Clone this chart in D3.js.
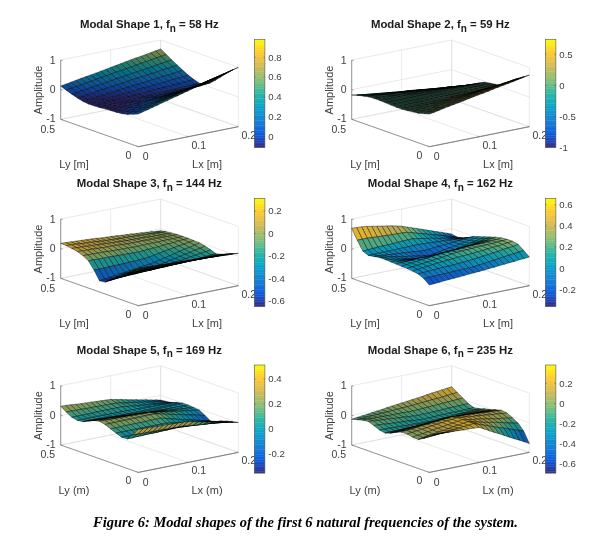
<!DOCTYPE html>
<html>
<head>
<meta charset="utf-8">
<style>html,body{margin:0;padding:0;background:#fff}svg{display:block}</style>
<script src="https://cdn.jsdelivr.net/npm/d3@7"></script>
</head>
<body>
<svg id="chart" width="609" height="545"></svg>
<script>
const titles = ["Modal Shape 1","Modal Shape 2","Modal Shape 3","Modal Shape 4","Modal Shape 5","Modal Shape 6"];
const freqs = [58,59,144,162,169,235];
const lyLabels = ["Ly [m]","Ly [m]","Ly [m]","Ly [m]","Ly (m)","Ly (m)"];
const lxLabels = ["Lx [m]","Lx [m]","Lx [m]","Lx [m]","Lx (m)","Lx (m)"];
const caption = "Figure 6: Modal shapes of the first 6 natural frequencies of the system.";
const colorRanges = [[-0.107,0.98],[-1,0.74],[-0.65,0.314],[-0.36,0.66],[-0.353,0.513],[-0.69,0.383]];
const colorTicks = [[0,0.2,0.4,0.6,0.8],[-1,-0.5,0,0.5],[-0.6,-0.4,-0.2,0,0.2],[-0.2,0,0.2,0.4,0.6],[-0.2,0,0.2,0.4],[-0.6,-0.4,-0.2,0,0.2]];
const lxTicks = [0,0.1,0.2];
const lyTicks = [0,0.5];
const ampTicks = [-1,0,1];
const parulaStops = ["#352a87","#0f5cdd","#1481d6","#06a4ca","#2eb7a4","#87bf77","#d1bb59","#fec832","#f9fb0e"];
const meshShade = [0.32,0.68,0.2,0.1,0.2,0.2];

// amplitude x 100, rows from Ly=0.5 down to Ly=0, columns from Lx=0 to Lx=0.2
const shape1 = [
[12,15,18,21,24,27,29,32,35,38,41,44,47,50,53,56,58,61,64,67,70],
[5,8,10,13,16,18,21,24,26,29,32,34,37,39,42,45,47,50,53,55,58],
[-2,0,3,5,8,10,12,15,17,20,22,24,27,29,32,34,36,39,41,44,46],
[-8,-6,-4,-2,1,3,5,7,9,11,14,16,18,20,22,24,26,29,31,33,35],
[-13,-11,-9,-7,-6,-4,-2,0,2,4,6,7,9,11,13,15,17,18,20,22,24],
[-15,-14,-12,-11,-9,-8,-6,-5,-3,-2,0,1,2,4,5,7,8,10,11,13,14],
[-15,-14,-13,-12,-11,-10,-9,-8,-7,-6,-5,-3,-2,-1,0,1,2,3,4,5,6],
[-14,-13,-13,-12,-11,-11,-10,-9,-8,-8,-7,-6,-6,-5,-4,-4,-3,-2,-1,-1,0],
[-12,-11,-10,-9,-9,-8,-7,-6,-5,-4,-4,-3,-2,-1,0,1,2,2,3,4,5],
[-11,-10,-8,-7,-6,-5,-3,-2,-1,1,2,3,5,6,7,9,10,11,12,14,15],
[-10,-8,-6,-4,-2,0,3,5,7,9,11,13,15,17,19,22,24,26,28,30,32],
[-8,-5,-2,1,4,6,9,12,15,18,21,24,27,30,33,35,38,41,44,47,50],
[-4,0,3,7,10,14,18,21,25,28,32,36,39,43,46,50,54,57,61,64,68],
[3,7,11,15,19,24,28,32,36,40,44,48,52,56,60,65,69,73,77,81,85],
[10,15,19,24,28,33,37,42,46,51,55,60,64,69,73,78,82,87,91,96,100]];
const shape2 = [
[-18,-21,-24,-27,-30,-33,-35,-37,-39,-41,-43,-45,-47,-49,-51,-53,-54,-56,-57,-59,-60],
[-12,-14,-16,-18,-20,-22,-24,-26,-28,-30,-31,-33,-35,-37,-39,-41,-43,-45,-46,-48,-50],
[-8,-10,-11,-13,-15,-16,-18,-20,-21,-23,-24,-26,-28,-30,-31,-33,-35,-36,-38,-39,-41],
[-4,-5,-7,-8,-10,-11,-12,-14,-15,-17,-18,-19,-21,-22,-24,-25,-26,-28,-29,-31,-32],
[-3,-4,-5,-6,-7,-8,-9,-10,-11,-12,-13,-14,-15,-16,-17,-18,-19,-20,-21,-22,-23],
[-3,-3,-4,-4,-5,-5,-6,-6,-7,-7,-8,-8,-8,-9,-9,-10,-10,-11,-11,-12,-12],
[-4,-4,-4,-4,-4,-4,-4,-4,-4,-4,-4,-4,-4,-3,-3,-3,-3,-3,-3,-3,-3],
[-5,-5,-5,-4,-4,-4,-4,-4,-3,-3,-3,-3,-2,-2,-2,-1,-1,-1,-1,0,0],
[-6,-6,-5,-5,-4,-4,-3,-3,-2,-2,-2,-1,-1,0,0,1,1,2,2,3,3],
[-6,-5,-5,-4,-3,-3,-2,-1,-1,0,1,2,2,3,4,4,5,6,6,7,8],
[-4,-3,-2,-1,1,2,3,4,5,7,8,9,10,11,13,14,15,16,17,19,20],
[-2,0,2,4,5,7,9,11,13,15,16,18,20,22,24,26,27,29,31,33,35],
[0,3,5,8,10,13,15,18,20,23,25,28,30,33,35,38,40,43,45,48,50],
[5,8,11,14,16,19,22,25,28,31,34,36,39,42,45,48,51,54,56,59,62],
[10,13,16,20,23,26,29,32,36,39,42,45,48,52,55,58,61,64,68,71,74]];
const shape3 = [
[18,17,16,15,14,13,12,11,9,8,7,6,4,3,2,0,-1,-3,-4,-6,-7],
[17,16,15,13,12,11,10,8,7,6,5,4,4,3,2,1,0,-1,-2,-3,-4],
[14,13,12,11,10,9,8,7,6,5,4,3,3,2,2,1,0,0,-1,-1,-2],
[10,9,8,8,7,6,5,5,4,3,2,2,2,2,1,1,1,1,0,0,0],
[3,2,2,1,1,0,-1,-1,-2,-2,-3,-3,-2,-2,-2,-2,-1,-1,-1,0,0],
[-8,-8,-9,-9,-9,-10,-10,-11,-11,-12,-12,-11,-10,-9,-8,-6,-5,-4,-2,-1,0],
[-32,-33,-33,-32,-32,-31,-31,-30,-30,-29,-28,-26,-23,-20,-17,-14,-11,-8,-6,-3,-1],
[-62,-60,-58,-56,-53,-51,-49,-47,-44,-42,-40,-37,-33,-29,-25,-21,-17,-13,-10,-6,-2],
[-60,-58,-56,-54,-53,-51,-49,-47,-46,-44,-42,-38,-35,-31,-28,-24,-20,-17,-13,-10,-6],
[-45,-44,-44,-43,-42,-42,-41,-40,-40,-39,-38,-35,-33,-30,-28,-25,-22,-20,-17,-15,-12],
[-30,-30,-30,-29,-29,-29,-29,-29,-28,-28,-28,-27,-26,-25,-24,-24,-23,-22,-21,-20,-19],
[-15,-15,-15,-15,-15,-15,-16,-16,-16,-16,-16,-16,-16,-15,-15,-15,-15,-15,-14,-14,-14],
[-2,-2,-3,-3,-3,-3,-4,-4,-4,-5,-5,-5,-5,-5,-5,-5,-5,-6,-6,-6,-6],
[12,12,11,11,10,10,10,9,9,8,8,7,7,6,5,5,4,4,3,3,2],
[26,25,24,24,23,22,21,21,20,19,18,17,16,16,15,14,13,12,11,10,9]];
const shape4 = [
[69,68,67,65,62,59,56,53,50,46,42,36,30,24,18,12,6,0,-6,-12,-18],
[35,35,35,34,33,32,31,30,30,29,28,23,18,13,8,3,-2,-7,-12,-17,-22],
[5,6,7,8,9,9,10,11,12,12,13,10,7,4,1,-3,-6,-9,-12,-15,-18],
[-3,-3,-2,-2,-2,-2,-1,-1,-1,0,0,-1,-2,-3,-4,-5,-6,-7,-8,-9,-10],
[0,-1,-3,-4,-6,-7,-8,-10,-11,-13,-14,-13,-11,-10,-8,-7,-6,-4,-3,-1,0],
[3,0,-2,-5,-8,-11,-13,-16,-19,-21,-24,-21,-18,-15,-12,-9,-6,-3,0,3,6],
[3,0,-3,-6,-9,-12,-14,-17,-20,-23,-26,-22,-18,-15,-11,-7,-3,1,4,8,12],
[2,0,-2,-3,-5,-7,-9,-11,-12,-14,-16,-13,-9,-6,-2,1,4,8,11,15,18],
[1,2,2,3,4,5,5,6,6,7,8,9,10,11,13,14,15,17,19,22,24],
[0,2,4,6,8,10,12,14,15,17,18,19,20,21,22,23,23,24,25,26,28],
[-1,1,3,5,7,9,11,13,15,18,20,21,22,23,24,24,25,26,27,28,30],
[-3,-1,1,3,5,7,8,10,11,13,14,15,16,18,19,21,23,24,26,28,30],
[-6,-5,-4,-3,-2,-1,0,1,2,3,4,6,8,10,12,14,16,19,21,23,26],
[-15,-14,-14,-13,-13,-12,-11,-11,-10,-10,-9,-7,-5,-3,-1,2,4,6,8,10,12],
[-30,-29,-28,-26,-25,-24,-23,-22,-20,-19,-18,-17,-15,-14,-12,-11,-9,-8,-6,-5,-3]];
const shape5 = [
[31,30,29,27,26,25,24,23,22,21,20,16,13,9,5,2,-2,-5,-9,-12,-16],
[18,18,17,17,16,16,16,15,15,14,14,11,8,6,3,0,-3,-6,-8,-11,-14],
[7,7,7,7,7,8,8,8,8,8,8,6,4,2,0,-2,-3,-5,-7,-9,-11],
[3,3,3,3,3,3,2,2,2,2,2,1,1,0,0,-1,-1,-2,-3,-3,-4],
[5,5,4,4,3,3,2,2,1,1,0,0,0,0,0,0,0,0,0,0,0],
[14,13,12,11,10,9,8,7,6,5,4,4,3,3,3,2,2,1,1,0,0],
[22,21,20,20,19,18,17,16,16,15,14,12,11,9,8,6,4,3,1,0,-2],
[26,26,25,25,24,24,24,23,23,22,22,19,17,14,11,9,6,4,1,-1,-4],
[22,22,22,23,23,23,23,23,24,24,24,20,16,12,8,5,1,-3,-7,-11,-15],
[14,14,14,15,15,15,15,15,16,16,16,12,7,3,-2,-6,-10,-14,-19,-23,-27],
[6,6,6,6,6,6,6,6,6,6,6,3,0,-2,-5,-8,-11,-14,-16,-19,-22],
[-1,-1,-1,-1,-1,-1,-1,0,0,0,0,-1,-3,-4,-6,-7,-8,-10,-11,-13,-14],
[0,0,1,1,2,2,2,3,3,4,4,3,2,1,0,-2,-3,-4,-5,-7,-8],
[20,20,19,19,18,18,18,17,17,16,16,14,12,10,8,7,5,3,1,-1,-3],
[45,44,44,43,42,42,41,40,40,39,38,34,30,26,23,19,15,12,8,4,1]];
const shape6 = [
[-13,-11,-9,-7,-5,-3,-1,2,4,6,8,10,12,14,16,19,21,23,25,27,29],
[-8,-7,-6,-5,-4,-3,-2,-1,0,1,2,3,5,6,7,9,10,11,13,15,16],
[-3,-3,-4,-4,-4,-5,-5,-5,-5,-6,-6,-5,-4,-3,-2,-1,0,1,2,3,4],
[-1,-2,-4,-5,-6,-8,-9,-10,-12,-13,-14,-13,-13,-12,-12,-11,-10,-10,-9,-9,-8],
[-8,-9,-10,-12,-13,-14,-15,-16,-18,-19,-20,-19,-19,-18,-18,-17,-17,-17,-16,-16,-15],
[-16,-17,-17,-18,-18,-19,-20,-20,-21,-21,-22,-21,-20,-19,-18,-17,-16,-15,-14,-13,-12],
[-20,-20,-19,-19,-18,-18,-18,-17,-17,-16,-16,-15,-14,-13,-12,-11,-10,-9,-8,-7,-6],
[-14,-13,-12,-11,-10,-9,-8,-7,-6,-5,-4,-4,-4,-3,-3,-3,-3,-3,-2,-2,-2],
[-4,-3,-1,0,2,3,4,6,7,9,10,9,9,8,7,7,6,6,5,5,4],
[3,5,6,8,10,12,13,15,17,18,20,19,18,17,16,15,13,12,11,10,9],
[3,5,7,9,11,14,16,18,20,22,24,22,20,18,17,15,13,11,10,8,6],
[-1,2,4,7,9,12,14,17,19,22,24,21,18,16,13,10,7,4,2,-1,-4],
[-2,1,4,6,9,11,14,17,19,22,24,20,16,12,8,5,1,-3,-7,-11,-15],
[8,10,11,13,14,16,18,19,21,22,24,18,12,6,0,-6,-11,-17,-23,-29,-35],
[25,24,24,23,22,22,21,20,20,19,18,9,0,-9,-17,-26,-35,-44,-52,-61,-70]];
const shapes = [shape1,shape2,shape3,shape4,shape5,shape6];

const offsetX = [0,291,0,291,0,291];
const offsetY = [0,0,159,159,325.7,325.7];

const svg = d3.select("#chart");
svg.append("rect").attr("width",609).attr("height",545).attr("fill","#fff");
const defs = svg.append("defs");
defs.append("filter").attr("id","soft").attr("x","-5%").attr("y","-5%").attr("width","110%").attr("height","110%")
  .append("feGaussianBlur").attr("stdDeviation",0.35);

const parula = d3.scaleLinear()
  .domain(parulaStops.map((_,i)=>i/(parulaStops.length-1)))
  .range(parulaStops).interpolate(d3.interpolateRgb).clamp(true);

// oblique 3-D projection built from three linear scales
const xScale = d3.scaleLinear().domain([0,0.2]).range([0,1]);
const yScale = d3.scaleLinear().domain([0,0.5]).range([0,1]);
const zScale = d3.scaleLinear().domain([-1,1]).range([0,-59.3]);
const project = (x,y,z) => {
  const u = xScale(x), v = yScale(y);
  return [138.3 + 100*u - 77.6*v, 146.7 - 20*u - 27.4*v + zScale(z)];
};
const lineGen = d3.line();
// the finer the cell on screen, the more its mesh lines darken it
const areaShade = d3.scaleLinear().domain([2,13]).range([0.95,0]).clamp(true);

shapes.forEach((grid,k)=>{
  const g = svg.append("g").attr("transform",`translate(${offsetX[k]},${offsetY[k]})`).attr("filter","url(#soft)");
  const seg = (a,b,color,w) => g.append("path").attr("d",lineGen([a,b])).attr("fill","none").attr("stroke",color).attr("stroke-width",w);
  const light = "#dcdcdc", dark = "#707070";
  // walls
  lxTicks.forEach(t=>{
    seg(project(t,0.5,-1),project(t,0.5,1),light,0.6);
    seg(project(t,0,-1),project(t,0.5,-1),light,0.6);
  });
  lyTicks.forEach(t=>{
    seg(project(0,t,-1),project(0.2,t,-1),t?light:dark,0.6);
    seg(project(0.2,t,-1),project(0.2,t,1),light,0.6);
  });
  ampTicks.forEach(t=>{
    seg(project(0,0.5,t),project(0.2,0.5,t),light,0.6);
    seg(project(0.2,0.5,t),project(0.2,0,t),light,0.6);
  });
  // visible axes
  seg(project(0,0.5,-1),project(0,0,-1),dark,0.7);
  seg(project(0,0,-1),project(0.2,0,-1),dark,0.7);
  seg(project(0,0.5,-1),project(0,0.5,1),dark,0.7);
  ampTicks.forEach(t=>{ const p=project(0,0.5,t); seg(p,[p[0]+2,p[1]+0.5],dark,0.6); });
  lxTicks.forEach(t=>{ const p=project(t,0,-1); seg(p,[p[0]-1.5,p[1]-0.6],dark,0.6); });
  // surface, painted back to front
  const color = d3.scaleLinear().domain(colorRanges[k]).range([0,1]);
  const nRows = grid.length, nCols = grid[0].length;
  const lx = d3.scaleLinear().domain([0,nCols-1]).range([0,0.2]);
  const ly = d3.scaleLinear().domain([0,nRows-1]).range([0.5,0]);
  const cells = [];
  for(let r=0;r<nRows-1;r++) for(let c=nCols-2;c>=0;c--){
    const q=[[c,r],[c+1,r],[c+1,r+1],[c,r+1]];
    const pts = q.map(([a,b])=>project(lx(a),ly(b),grid[b][a]/100));
    cells.push({pts, area:Math.abs(d3.polygonArea(pts)),
                z:d3.mean(q,([a,b])=>grid[b][a]/100)});
  }
  g.append("g").selectAll("path").data(cells).join("path")
    .attr("d",d=>lineGen(d.pts)+"Z")
    .attr("fill",d=>d3.interpolateRgb(parula(color(d.z)),"#000")(Math.max(meshShade[k],areaShade(d.area))))
    .attr("stroke","#000").attr("stroke-width",0.42).attr("stroke-linejoin","round");
  // tick labels
  const txt = (x,y,s,anchor,size) => g.append("text").attr("x",x).attr("y",y).attr("text-anchor",anchor||"middle")
    .attr("font-family","'Liberation Sans',Arial,sans-serif").attr("font-size",size||10.5).attr("fill","#404040").text(s);
  ampTicks.forEach(t=>{ const p=project(0,0.5,t); txt(p[0]-5,p[1]+(t===-1?2.6:3.6),t,"end"); });
  lyTicks.forEach(t=>{ const p=project(0,t,-1); txt(p[0]+(t?-13:-10),p[1]+(t?13.4:12),t); });
  lxTicks.forEach(t=>{ const p=project(t,0,-1); txt(p[0]+(t?10.5:7.4),p[1]+(t?12:13.4),t); });
  txt(74,168,lyLabels[k],"middle",11);
  txt(207,168,lxLabels[k],"middle",11);
  g.append("text").attr("transform","translate(41.5,90) rotate(-90)").attr("text-anchor","middle")
    .attr("font-family","'Liberation Sans',Arial,sans-serif").attr("font-size",11).attr("fill","#404040").text("Amplitude");
  // colour bar
  const barX=254.3, barW=10.6, barTop=39.3, barBottom=147.3;
  const barScale = d3.scaleLinear().domain(colorRanges[k]).range([barBottom,barTop]);
  const levels = d3.range(64);
  const bh = (barBottom-barTop)/64;
  g.append("g").selectAll("rect").data(levels).join("rect")
    .attr("x",barX).attr("width",barW).attr("y",d=>barBottom-(d+1)*bh).attr("height",bh+0.3)
    .attr("fill",d=>parula((d+0.5)/64));
  g.append("rect").attr("x",barX).attr("y",barTop).attr("width",barW).attr("height",barBottom-barTop)
    .attr("fill","none").attr("stroke","#55554a").attr("stroke-width",0.6);
  colorTicks[k].forEach(t=>{
    const y=barScale(t);
    seg([barX,y],[barX+1.5,y],"#55554a",0.5);
    seg([barX+barW,y],[barX+barW-1.5,y],"#55554a",0.5);
    txt(barX+barW+3.4,y+3.4,t,"start",9.6);
  });
  // title
  const title = g.append("text").attr("x",149.3).attr("y",28.3).attr("text-anchor","middle")
    .attr("font-family","'Liberation Sans',Arial,sans-serif").attr("font-weight","bold").attr("font-size",11.4).attr("fill","#1a1a1a");
  title.append("tspan").text(`${titles[k]}, f`);
  title.append("tspan").attr("dy",3.5).attr("font-size",10).text("n");
  title.append("tspan").attr("dy",-3.5).text(` = ${freqs[k]} Hz`);
});

svg.append("text").attr("x",305.5).attr("y",527).attr("text-anchor","middle").attr("filter","url(#soft)")
  .attr("font-family","'Liberation Serif','Times New Roman',serif").attr("font-weight","bold").attr("font-style","italic")
  .attr("font-size",14.5).attr("fill","#000").text(caption);
</script>
</body>
</html>
